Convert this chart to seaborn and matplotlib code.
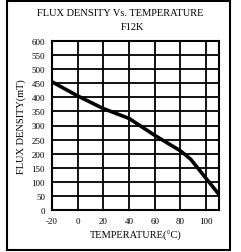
import matplotlib
matplotlib.use("Agg")
import matplotlib.pyplot as plt
import seaborn as sns
import pandas as pd
from matplotlib.patches import Rectangle

temps = [-20, 0, 20, 40, 60, 80, 88, 110]
flux = [455, 405, 360, 325, 265, 210, 180, 55]
xticks = [-20, 0, 20, 40, 60, 80, 100]
yticks = list(range(0, 601, 50))

sns.set_theme(style="white")
plt.rcParams['font.family'] = ['Liberation Serif', 'DejaVu Serif']
plt.rcParams['text.color'] = 'black'

df = pd.DataFrame({"T": temps, "B": flux})

fig = plt.figure(figsize=(2.41, 2.53), dpi=100)
ax = fig.add_axes([52/241, 1-211/253, (219-52)/241, (211-42)/253])
sns.lineplot(data=df, x="T", y="B", ax=ax, color="black", linewidth=2.6)

ax.set_xlim(-20, 110)
ax.set_ylim(0, 600)
ax.set_xticks(xticks)
ax.set_yticks(yticks)
ax.set_xticklabels([str(v) for v in xticks], fontsize=6.5)
ax.set_yticklabels([str(v) for v in yticks], fontsize=6.5)
ax.tick_params(length=0, pad=5, colors="black")
ax.grid(True, color="black", linewidth=1.3)
for s in ax.spines.values():
    s.set_color("black")
    s.set_linewidth(1.5)
ax.set_xlabel("TEMPERATURE(°C)", fontsize=7.5, color="black", labelpad=4)
ax.set_ylabel("FLUX DENSITY(mT)", fontsize=7.5, color="black", labelpad=4)

fig.text(0.5, 1-14/253, "FLUX DENSITY Vs. TEMPERATURE", ha="center", va="center", fontsize=7.5, color="black")
fig.text(0.55, 1-27/253, "F12K", ha="center", va="center", fontsize=7.5, color="black")

fig.patches.append(Rectangle((7/241, 1-251/253), (230-7)/241, (251-2)/253,
                             transform=fig.transFigure, fill=False,
                             edgecolor="black", linewidth=1.5))

fig.savefig("out.png", dpi=100)
